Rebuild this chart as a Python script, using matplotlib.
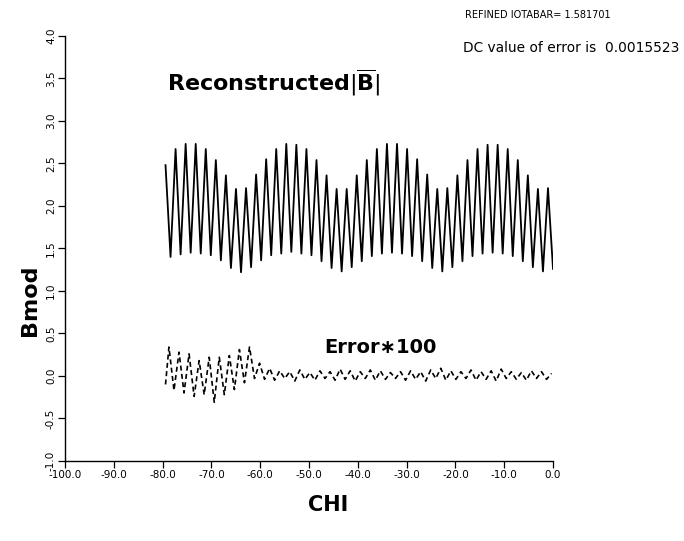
import numpy as np
import matplotlib
matplotlib.use("Agg")
import matplotlib.pyplot as plt

# reconstructed |B| : alternating peak / trough values
chi_start, chi_end = -79.4, 0.0
bmod_vals = [
    2.48, 1.40, 2.67, 1.43, 2.73, 1.45, 2.73, 1.44, 2.67, 1.42,
    2.54, 1.36, 2.36, 1.27, 2.20, 1.22, 2.21, 1.28, 2.37, 1.36,
    2.55, 1.42, 2.67, 1.44, 2.73, 1.46, 2.72, 1.44, 2.67, 1.42,
    2.54, 1.35, 2.36, 1.27, 2.20, 1.23, 2.20, 1.28, 2.36, 1.35,
    2.54, 1.41, 2.67, 1.44, 2.73, 1.45, 2.73, 1.44, 2.67, 1.41,
    2.55, 1.35, 2.37, 1.27, 2.20, 1.23, 2.21, 1.28, 2.36, 1.35,
    2.54, 1.41, 2.67, 1.44, 2.72, 1.45, 2.72, 1.44, 2.67, 1.41,
    2.54, 1.35, 2.36, 1.28, 2.20, 1.23, 2.21, 1.26,
]

# error * 100 : first value is the start point, then peaks / troughs
err_start = -0.10
err_vals = [
    0.34, -0.17, 0.28, -0.20, 0.26, -0.24, 0.18, -0.22, 0.22, -0.31,
    0.22, -0.22, 0.24, -0.16, 0.31, -0.08, 0.34, -0.03, 0.15, -0.04,
    0.09, -0.05, 0.06, -0.03, 0.05, -0.06, 0.07, -0.04, 0.04, -0.05,
    0.06, -0.03, 0.05, -0.05, 0.08, -0.04, 0.06, -0.06, 0.05, -0.03,
    0.07, -0.05, 0.06, -0.04, 0.04, -0.03, 0.05, -0.05, 0.06, -0.04,
    0.05, -0.06, 0.07, -0.03, 0.09, -0.05, 0.06, -0.04, 0.05, -0.03,
    0.07, -0.05, 0.05, -0.04, 0.06, -0.06, 0.08, -0.03, 0.05, -0.04,
    0.04, -0.05, 0.06, -0.03, 0.05, -0.04, 0.03,
]

x_ticks = np.arange(-100, 1, 10)
y_ticks = np.arange(-1.0, 4.01, 0.5)

chi_b = np.linspace(chi_start, chi_end, len(bmod_vals))
chi_e = np.concatenate([[chi_start], np.linspace(-78.7, -0.3, len(err_vals))])
err = np.concatenate([[err_start], err_vals])

fig = plt.figure(figsize=(6.84, 5.41), dpi=100)
ax = fig.add_axes([0.095, 0.148, 0.7135, 0.7855])

ax.plot(chi_b, bmod_vals, color="black", lw=1.3, solid_joinstyle="round")
ax.plot(chi_e, err, color="black", lw=1.2, ls=(0, (3, 2)))

ax.set_xlim(-100, 0)
ax.set_ylim(-1, 4)
ax.set_xticks(x_ticks)
ax.set_xticklabels([f"{v:.1f}" for v in x_ticks], fontsize=7.5)
ax.set_yticks(y_ticks)
ax.set_yticklabels([f"{v:.1f}" for v in y_ticks], fontsize=7.5,
                   rotation=90, va="center")
ax.tick_params(direction="out", length=5, width=0.9, color="black", pad=1.5)
for s in ("top", "right"):
    ax.spines[s].set_visible(False)
for s in ("left", "bottom"):
    ax.spines[s].set_linewidth(1.0)

ax.text(-79.1, 3.45,
        r"$\mathbf{Reconstructed}|\overline{\mathbf{B}}|$",
        fontsize=16, va="center", ha="left")
ax.text(-46.8, 0.33, "Error\u2217100", fontsize=14, fontweight="bold",
        va="center", ha="left")

fig.text(465 / 684, 1 - 15 / 541, "REFINED IOTABAR= 1.581701",
         fontsize=7, va="center", ha="left")
fig.text(463 / 684, 1 - 48 / 541, "DC value of error is  0.0015523",
         fontsize=9.9, va="center", ha="left")

fig.text(30 / 684, 1 - 300 / 541, "Bmod", fontsize=16, fontweight="bold",
         rotation=90, va="center", ha="center")
fig.text(328 / 684, 1 - 505 / 541, "CHI", fontsize=15, fontweight="bold",
         va="center", ha="center")

fig.savefig("out.png", dpi=100)
